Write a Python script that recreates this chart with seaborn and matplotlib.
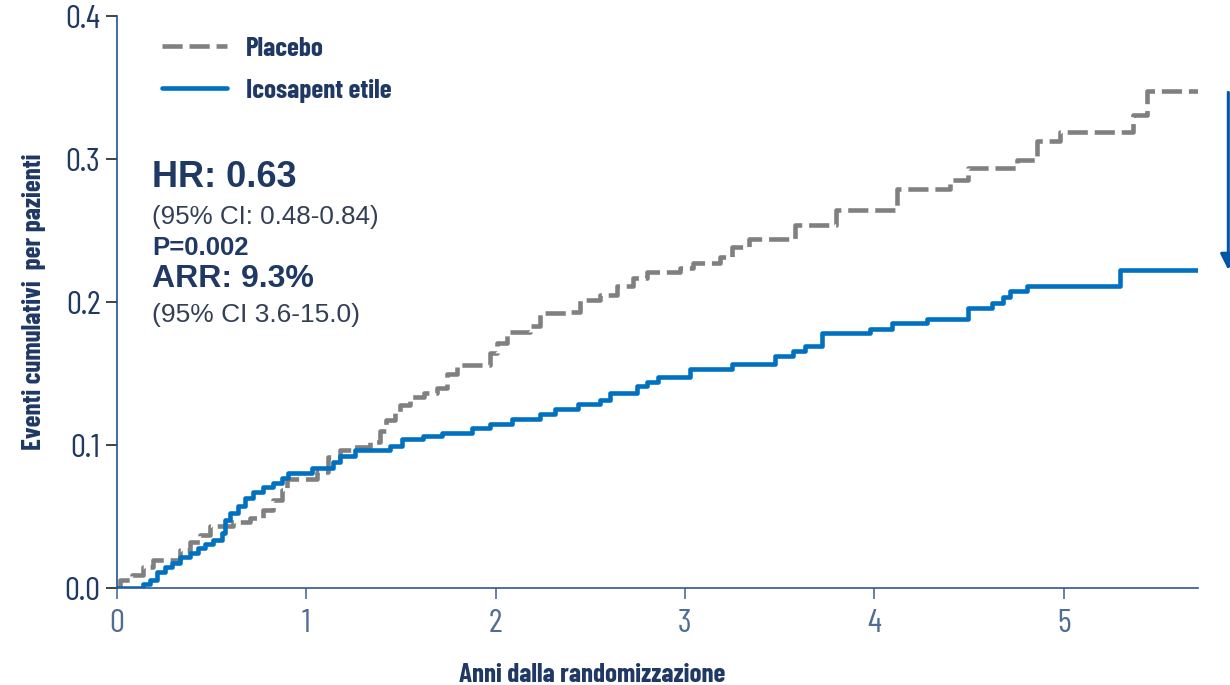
import numpy as np
import pandas as pd
import matplotlib
matplotlib.use('Agg')
import matplotlib.pyplot as plt
import seaborn as sns

# cumulative event curves (years, cumulative incidence)
placebo_t = [0, 0.016, 0.078, 0.137, 0.190, 0.333, 0.385, 0.438, 0.491, 0.612, 0.702,
             0.771, 0.824, 0.870, 0.896, 1.056, 1.114, 1.177, 1.241, 1.336, 1.389,
             1.42, 1.47, 1.495, 1.55, 1.62, 1.69, 1.742, 1.795, 1.97, 2.006, 2.06,
             2.18, 2.234, 2.376, 2.445, 2.55, 2.64, 2.724, 2.798, 2.973, 3.04, 3.184,
             3.247, 3.34, 3.58, 3.80, 4.12, 4.398, 4.493, 4.752, 4.857, 4.979, 5.364,
             5.438, 5.71]
placebo_y = [0, 0.0056, 0.009, 0.015, 0.0196, 0.0266, 0.0324, 0.037, 0.0434, 0.0464, 0.0487,
             0.0545, 0.0615, 0.0685, 0.076, 0.081, 0.0916, 0.0965, 0.0988, 0.1023, 0.110,
             0.1175, 0.1233, 0.128, 0.1338, 0.1366, 0.1399, 0.150, 0.156, 0.164, 0.171, 0.1793,
             0.183, 0.192, 0.193, 0.2014, 0.205, 0.211, 0.2168, 0.2212, 0.2238, 0.2273, 0.2317,
             0.2385, 0.2443, 0.2538, 0.2643, 0.279, 0.2853, 0.2937, 0.2993, 0.3128, 0.3191, 0.3308,
             0.3476, 0.3476]

icosa_t = [0, 0.137, 0.174, 0.210, 0.253, 0.289, 0.333, 0.385, 0.428, 0.465, 0.507,
           0.553, 0.570, 0.597, 0.639, 0.676, 0.718, 0.771, 0.824, 0.870, 0.903,
           1.03, 1.14, 1.177, 1.257, 1.441, 1.505, 1.616, 1.716, 1.874, 1.969, 2.085,
           2.233, 2.313, 2.434, 2.550, 2.603, 2.746, 2.798, 2.856, 3.025, 3.247, 3.474,
           3.569, 3.633, 3.722, 3.976, 4.092, 4.277, 4.493, 4.620, 4.678, 4.715, 4.805,
           5.296, 5.71]
icosa_y = [0, 0.0026, 0.0056, 0.0114, 0.0149, 0.0177, 0.0215, 0.0243, 0.0277, 0.0308, 0.0336,
           0.0382, 0.0476, 0.0527, 0.0573, 0.063, 0.0673, 0.0708, 0.0736, 0.0767, 0.0802,
           0.084, 0.088, 0.0923, 0.0965, 0.0993, 0.1042, 0.1063, 0.1086, 0.1117, 0.1147, 0.118,
           0.1217, 0.1254, 0.1287, 0.1315, 0.1364, 0.1413, 0.1443, 0.1478, 0.1535, 0.157, 0.162,
           0.166, 0.169, 0.178, 0.181, 0.185, 0.188, 0.196, 0.199, 0.2035, 0.2077, 0.211,
           0.2224, 0.2224]

groups = ['Placebo', 'Icosapent etile']
stats_lines = ['HR: 0.63', '(95% CI: 0.48-0.84)', 'P=0.002', 'ARR: 9.3%', '(95% CI 3.6-15.0)']

NAVY = '#1F3864'
GREY = '#808080'
BLUE = '#0070C0'

df = pd.concat([
    pd.DataFrame({'t': placebo_t, 'y': placebo_y, 'group': groups[0]}),
    pd.DataFrame({'t': icosa_t, 'y': icosa_y, 'group': groups[1]}),
])

sns.set_style('white')
narrow = ['Barlow Condensed', 'Roboto Condensed', 'Liberation Sans', 'DejaVu Sans']
arial = ['Liberation Sans', 'Arimo', 'DejaVu Sans']
plt.rcParams['font.family'] = narrow

fig = plt.figure(figsize=(12.3, 6.85), dpi=100)
ax = fig.add_axes([0.0951, 0.1416, 0.8789, 0.835])

sns.lineplot(data=df, x='t', y='y', hue='group', style='group',
             palette={groups[0]: GREY, groups[1]: BLUE},
             dashes={groups[0]: (4.4, 1.5), groups[1]: ''},
             drawstyle='steps-post', estimator=None, linewidth=3.3, ax=ax)

ax.set_xlim(0, 5.71)
ax.set_ylim(0, 0.4)
ax.set_xticks([0, 1, 2, 3, 4, 5])
ax.set_yticks([0, 0.1, 0.2, 0.3, 0.4])
ax.set_yticklabels(['0.0', '0.1', '0.2', '0.3', '0.4'])

for s in ['top', 'right']:
    ax.spines[s].set_visible(False)
ax.spines['left'].set_color('#1F4E9A')
ax.spines['bottom'].set_color('#2F5597')
ax.spines['left'].set_linewidth(1.2)
ax.spines['bottom'].set_linewidth(1.2)

ax.tick_params(axis='y', direction='out', length=8, width=1.2, color='#222222',
               labelsize=24, labelcolor=NAVY, pad=4, left=True)
ax.tick_params(axis='x', direction='out', length=8, width=1.2, color='#4F6D95',
               labelsize=24, labelcolor='#4F6D95', pad=7, bottom=True)

ax.set_xlabel('Anni dalla randomizzazione', fontsize=19.5, fontweight='bold', color=NAVY)
ax.set_ylabel('Eventi cumulativi  per pazienti', fontsize=19.5, fontweight='bold', color=NAVY)
ax.xaxis.set_label_coords(0.44, -0.131)
ax.yaxis.set_label_coords(-0.066, 0.5)

leg = ax.legend(loc='upper left', bbox_to_anchor=(0.019, 1.006), frameon=False,
                fontsize=19.5, handlelength=2.4, handletextpad=0.7, labelspacing=0.65)
for txt in leg.get_texts():
    txt.set_color(NAVY)
    txt.set_fontweight('bold')

x0 = 0.185
dy = -0.0018
ax.text(x0, 0.2888 + dy, stats_lines[0], fontsize=26, fontweight='bold', color=NAVY,
        va='center', family=arial)
ax.text(x0, 0.2615 + dy, stats_lines[1], fontsize=18.7, color='#333F55', va='center', family=arial)
ax.text(x0, 0.2399 + dy, stats_lines[2], fontsize=18.5, fontweight='bold', color=NAVY,
        va='center', family=arial)
ax.text(x0, 0.2182 + dy, stats_lines[3], fontsize=23, fontweight='bold', color=NAVY,
        va='center', family=arial)
ax.text(x0, 0.193 + dy, stats_lines[4], fontsize=19, color='#333F55', va='center', family=arial)

# arrow showing the absolute risk reduction at the end of follow-up
ax.annotate('', xy=(5.87, icosa_y[-1]), xytext=(5.87, placebo_y[-1] - 0.001),
            annotation_clip=False,
            arrowprops=dict(arrowstyle='-|>', color='#0055A5', lw=2.2, mutation_scale=24,
                            shrinkA=0, shrinkB=0))

fig.savefig('out.png', dpi=100)
